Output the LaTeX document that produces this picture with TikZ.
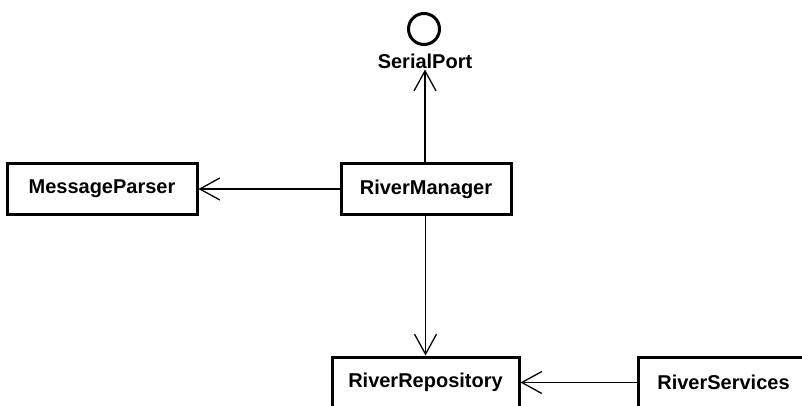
\documentclass[tikz,border=0pt]{standalone}
\usepackage{fontspec}
\setmainfont{Liberation Sans}
\usetikzlibrary{arrows.meta}
\begin{document}
\begin{tikzpicture}[x=1pt,y=-1pt,
  cls/.style={draw=black,line width=3pt,fill=white,inner sep=0pt,minimum height=51pt,
    font=\fontsize{20}{24}\selectfont\bfseries},
  dep/.style={draw=black,line width=1.3pt,-{Straight Barb[length=20pt,width=22pt,line width=1.3pt]}},
]
\useasboundingbox (0,0) rectangle (802,406);
\clip (0,0) rectangle (802,406);
\node[draw=black,circle,line width=3pt,minimum size=31pt,inner sep=0pt] (sp) at (424,29) {};
\node[font=\fontsize{20}{24}\selectfont\bfseries,inner sep=1pt] (spt) at (425,61) {SerialPort};
\node[cls,minimum width=190pt] (mp) at (102,189) {MessageParser};
\node[cls,minimum width=170pt] (rm) at (426,189) {RiverManager};
\node[cls,minimum width=187pt] (rr) at (425.5,382.5) {RiverRepository};
\node[cls,minimum width=171pt] (rs) at (723.5,382.5) {RiverServices};
\draw[dep] (rm.north -| spt.south) -- (spt.south);
\draw[dep] (rm.west) -- (mp.east);
\draw[dep] (rm.south -| rr.north) -- (rr.north);
\draw[dep] (rs.west) -- (rr.east);
\end{tikzpicture}
\end{document}
